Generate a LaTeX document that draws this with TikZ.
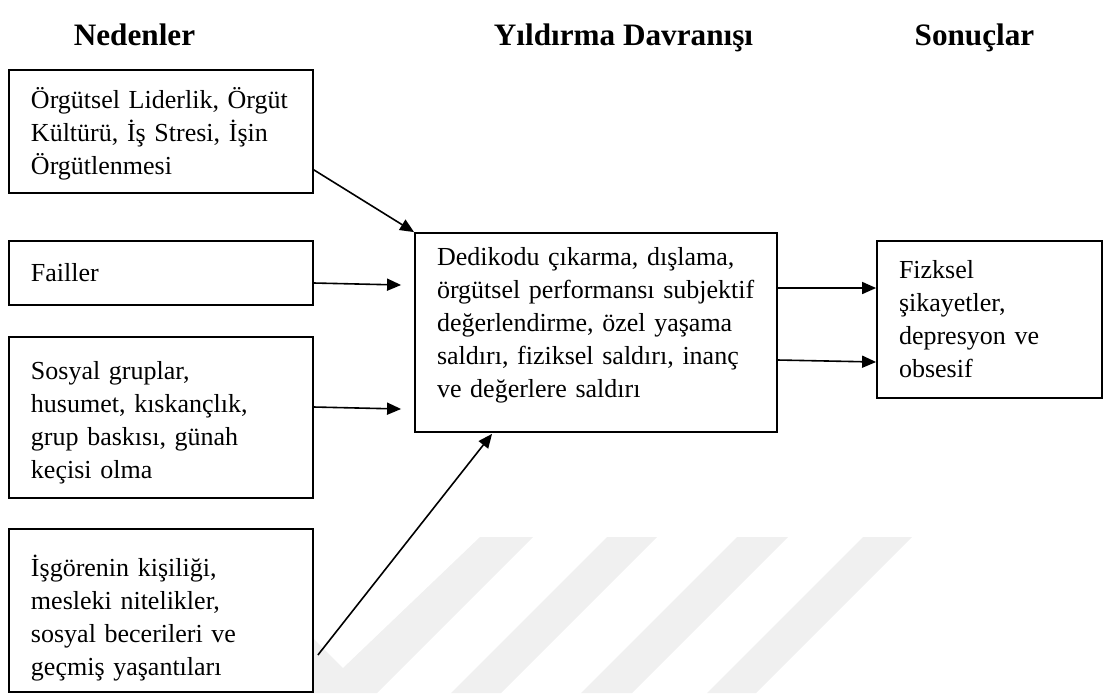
\documentclass[tikz,border=0pt]{standalone}
\usepackage{fontspec}
\setmainfont{Liberation Serif}
\usetikzlibrary{arrows.meta}
\newcommand\myboxfont{\fontsize{13pt}{16.5pt}\selectfont\hyphenpenalty=10000\relax\exhyphenpenalty=10000\relax\hbadness=10000\relax\hfuzz=20pt\relax}
\newcommand\toppush[2]{\raisebox{#1}{\vphantom{#2}}}
\begin{document}
\begin{tikzpicture}[x=0.5pt,y=-0.5pt,
  box/.style={draw, line width=0.9pt, fill=white, inner xsep=11pt, inner ysep=0pt,
    align=left, anchor=center, font=\myboxfont},
  ttl/.style={font=\bfseries\fontsize{15.6pt}{18pt}\selectfont, anchor=base},
  arr/.style={line width=0.8pt, -{Triangle[length=7pt,width=6pt]}},
  wm/.style={fill=gray!12, draw=none}]
\useasboundingbox (0,0) rectangle (1103,693);
% faint watermark
\fill[wm] (480,537) -- (533,537) -- (377,693) -- (313,693) -- (313,638) -- (343,668) -- cycle;
\fill[wm] (607,537) -- (657,537) -- (501,693) -- (451,693) -- cycle;
\fill[wm] (737,537) -- (788,537) -- (632,693) -- (581,693) -- cycle;
\fill[wm] (863,537) -- (912,537) -- (756,693) -- (707,693) -- cycle;
% titles
\node[ttl] (t1) at (134.5,45) {Nedenler};
\node[ttl] (t2) at (623.5,45) {Yıldırma Davranışı};
\node[ttl] (t3) at (974.5,45) {Sonuçlar};
% boxes
\node[box, text width=130pt, minimum height=61.5pt] (b1) at (161,131.5)
  {\toppush{2pt}{Ö}Örgütsel Liderlik, Örgüt\\Kültürü, İş Stresi, İşin\\Örgütlenmesi};
\node[box, text width=130pt, minimum height=32pt] (b2) at (161,273) {Failler};
\node[box, text width=130pt, minimum height=80.5pt] (b3) at (161,417.5)
  {\toppush{5pt}{Sl}Sosyal gruplar,\\husumet, kıskançlık,\\grup baskısı, günah\\keçisi olma};
\node[box, text width=130pt, minimum height=81.5pt] (b4) at (161,610.5)
  {\toppush{8pt}{İ}İşgörenin kişiliği,\\mesleki nitelikler,\\sosyal becerileri ve\\geçmiş yaşantıları};
\node[box, text width=159pt, minimum height=99.5pt] (c) at (596,332.5)
  {Dedikodu çıkarma, dışlama,\\örgütsel performansı subjektif\\değerlendirme, özel yaşama\\saldırı, fiziksel saldırı, inanç\\ve değerlere saldırı\rule[-10pt]{0pt}{10pt}};
\node[box, text width=90.5pt, minimum height=78.5pt] (r) at (989.5,319.5)
  {Fizksel\\şikayetler,\\depresyon ve\\obsesif};
% connectors
\draw[arr] ([yshift=12pt]b1.south east) -- (c.north west);
\draw[arr] ([yshift=-5pt]b2.east) -- ([xshift=-6.5pt,yshift=23.75pt]c.west);
\draw[arr] ([yshift=5.25pt]b3.east) -- ([xshift=-6.5pt,yshift=-38.25pt]c.west);
\draw[arr] ([xshift=2pt,yshift=-22.25pt]b4.east) -- ([xshift=-52pt,yshift=-0.5pt]c.south);
\draw[arr] ([yshift=22.25pt]c.east) -- ([yshift=15.75pt]r.west);
\draw[arr] ([yshift=-13.75pt]c.east) -- ([yshift=-21.25pt]r.west);
\end{tikzpicture}
\end{document}
